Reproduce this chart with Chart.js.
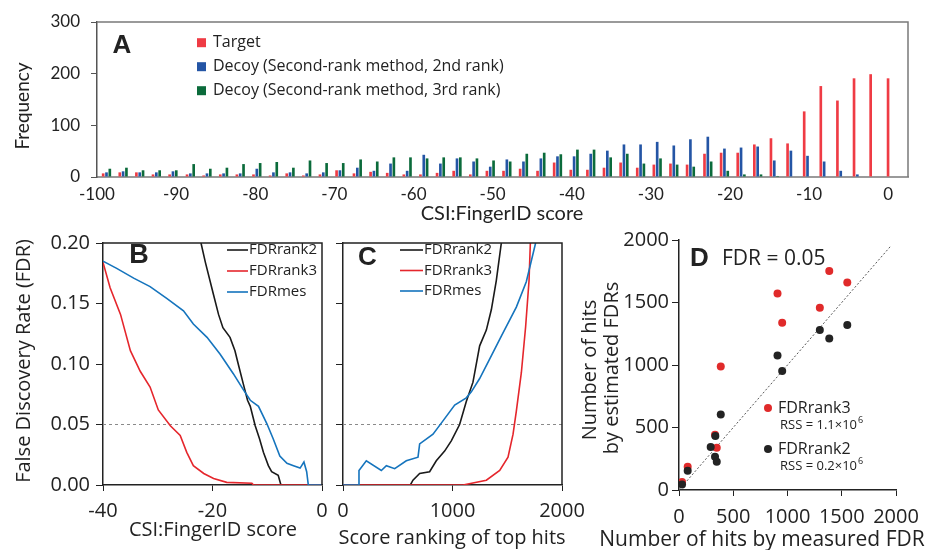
<!DOCTYPE html>
<html><head><meta charset="utf-8">
<script src="https://cdn.jsdelivr.net/npm/chart.js@4.4.0/dist/chart.umd.min.js"></script>
<style>
html,body{margin:0;padding:0;background:#fff;width:925px;height:550px;overflow:hidden;position:relative}
canvas{position:absolute;}
</style></head><body>
<canvas id="cA" width="925" height="225" style="left:0;top:0"></canvas>
<canvas id="cB" width="345" height="325" style="left:0;top:225px"></canvas>
<canvas id="cC" width="270" height="325" style="left:330px;top:225px"></canvas>
<canvas id="cD" width="355" height="325" style="left:570px;top:225px"></canvas>
<script>
// ---------- Panel A: histogram ----------
const binScores = [-98.8, -96.7, -94.6, -92.5, -90.4, -88.2, -86.1, -84.0, -81.9, -79.8, -77.7, -75.6, -73.5, -71.4, -69.3, -67.1,
  -65.0, -62.9, -60.8, -58.7, -56.6, -54.5, -52.4, -50.3, -48.2, -46.1, -43.9, -41.8, -39.7, -37.6, -35.5, -33.4,
  -31.3, -29.2, -27.1, -25.0, -22.8, -20.7, -18.6, -16.5, -14.4, -12.3, -10.2, -8.1, -6.0, -3.9, -1.8, 0.4];
const targetFreq = [7, 9, 9, 5, 5, 5, 3, 5, 5, 5, 3, 7, 3, 5, 13, 7,
  10, 8, 5, 5, 8, 12, 5, 12, 12, 16, 12, 28, 14, 14, 18, 28,
  18, 24, 26, 24, 45, 47, 47, 63, 75, 65, 127, 176, 148, 191, 199, 191];
const decoy2Freq = [9, 11, 9, 9, 11, 7, 7, 7, 7, 16, 9, 9, 7, 9, 13, 18,
  12, 26, 12, 43, 26, 36, 30, 20, 34, 30, 36, 40, 40, 45, 51, 63,
  63, 68, 61, 73, 78, 55, 57, 59, 32, 51, 41, 30, 12, 5, 0, 0];
const decoy3Freq = [16, 18, 13, 13, 13, 25, 16, 18, 25, 27, 29, 18, 32, 27, 27, 34,
  30, 38, 38, 36, 38, 38, 36, 32, 30, 45, 47, 44, 53, 53, 38, 45,
  26, 36, 24, 20, 30, 12, 5, 5, 2, 0, 1, 0, 0, 0, 0, 0];
const freqTicks = [0, 100, 200, 300];
const scoreTicksA = [-100, -90, -80, -70, -60, -50, -40, -30, -20, -10, 0];

// ---------- Panel B: FDR vs score ----------
const bScoreRank2 = [-22.1, -21.3, -19.8, -18.9, -18.1, -16.8, -15.9, -15.3, -14.4, -13.6, -13.1, -12.2, -11.4, -10.7, -9.8, -9.2, -8.0, -7.5, 0];
const bFdrRank2   = [0.200, 0.184, 0.157, 0.141, 0.130, 0.122, 0.111, 0.100, 0.084, 0.070, 0.065, 0.049, 0.038, 0.027, 0.016, 0.011, 0.008, 0, 0];
const bScoreRank3 = [-40, -38.7, -36.8, -35.0, -33.2, -31.4, -29.9, -27.7, -25.9, -24.7, -23.5, -21.6, -19.8, -17.4, -12.8, -12.5, 0];
const bFdrRank3   = [0.184, 0.163, 0.141, 0.111, 0.094, 0.081, 0.062, 0.049, 0.041, 0.027, 0.016, 0.0095, 0.0054, 0.0022, 0.0014, 0, 0];
const bScoreMes   = [-40, -37.5, -34.4, -31.4, -28.3, -25.3, -23.5, -21.0, -18.6, -16.2, -14.4, -13.1, -11.6, -10.1, -8.9, -7.7, -6.4, -5.2, -4.0, -3.3, -2.8, -2.5, 0];
const bFdrMes     = [0.185, 0.179, 0.171, 0.164, 0.154, 0.144, 0.133, 0.122, 0.108, 0.092, 0.079, 0.070, 0.065, 0.051, 0.038, 0.024, 0.018, 0.016, 0.014, 0.019, 0.011, 0, 0];
const fdrTicks = [0, 0.05, 0.10, 0.15, 0.20];
const scoreTicksB = [-40, -20, 0];
const fdrThreshold = 0.05;

// ---------- Panel C: FDR vs ranking ----------
const cRankMes   = [0, 146, 146, 213, 350, 396, 472, 578, 685, 700, 822, 913, 1020, 1126, 1172, 1248, 1339, 1446, 1583, 1674, 1759];
const cFdrMes    = [0, 0, 0.012, 0.020, 0.012, 0.016, 0.0135, 0.020, 0.023, 0.034, 0.042, 0.053, 0.066, 0.072, 0.077, 0.088, 0.104, 0.123, 0.147, 0.168, 0.200];
const cRankRank2 = [0, 615, 639, 700, 791, 852, 928, 989, 1065, 1126, 1187, 1248, 1309, 1355, 1400, 1446];
const cFdrRank2  = [0, 0, 0.004, 0.0095, 0.011, 0.020, 0.028, 0.0365, 0.050, 0.069, 0.085, 0.115, 0.128, 0.145, 0.169, 0.200];
const cRankRank3 = [0, 1096, 1309, 1431, 1507, 1553, 1583, 1629, 1668, 1699, 1711];
const cFdrRank3  = [0, 0, 0.004, 0.012, 0.023, 0.042, 0.061, 0.093, 0.131, 0.169, 0.200];
const rankTicks = [0, 1000, 2000];

// ---------- Panel D: hits estimated vs measured ----------
const dMeasuredRank3  = [1385, 1551, 908, 1298, 951, 385, 332, 348, 80, 28];
const dEstimatedRank3 = [1752, 1661, 1573, 1459, 1339, 989, 443, 339, 187, 64];
const dMeasuredRank2  = [1551, 1298, 1385, 908, 951, 385, 335, 292, 332, 348, 80, 28];
const dEstimatedRank2 = [1320, 1280, 1213, 1077, 952, 605, 432, 344, 267, 227, 155, 45];
const diagonalExtent = [0, 1950];
const hitTicks = [0, 500, 1000, 1500, 2000];

// ---------- helpers ----------
const zip = (xs, ys) => xs.map((x, i) => ({x: x, y: ys[i]}));
const setTicks = list => s => { s.ticks = list.map(v => ({value: v})); };
const plain = v => String(v);
const noPad = h => s => { s.height = h; s.paddingLeft = 0; s.paddingRight = 0; };

function textsPlugin(items) {
  return { id: 'texts', afterDraw(chart) {
    const ctx = chart.ctx;
    items.forEach(it => {
      ctx.save();
      ctx.font = it.font; ctx.fillStyle = it.color || '#222';
      ctx.textAlign = it.align || 'center'; ctx.textBaseline = 'middle';
      ctx.translate(it.x, it.y);
      if (it.rot) ctx.rotate(it.rot);
      ctx.fillText(it.text, 0, 0);
      if (it.sup) {
        const w = ctx.measureText(it.text).width;
        ctx.font = it.supFont; ctx.textAlign = 'left';
        ctx.fillText(it.sup, w + 1, -5);
      }
      ctx.restore();
    });
  }};
}
function framePlugin(sides, color, width) {
  return { id: 'frame', afterDraw(chart) {
    const ctx = chart.ctx, c = chart.chartArea;
    ctx.save(); ctx.strokeStyle = color; ctx.lineWidth = width; ctx.beginPath();
    if (sides.includes('top')) { ctx.moveTo(c.left, c.top); ctx.lineTo(c.right + width / 2, c.top); }
    if (sides.includes('right')) { ctx.moveTo(c.right, c.top); ctx.lineTo(c.right, c.bottom); }
    ctx.stroke(); ctx.restore();
  }};
}
function legendPlugin(cfg) {
  return { id: 'customLegend', afterDraw(chart) {
    const ctx = chart.ctx;
    ctx.save();
    ctx.font = cfg.font; ctx.textBaseline = 'middle'; ctx.textAlign = 'left';
    cfg.items.forEach((idx, i) => {
      const ds = chart.data.datasets[idx];
      const y = cfg.y + i * cfg.dy;
      if (cfg.kind === 'box') {
        ctx.fillStyle = ds.backgroundColor;
        ctx.fillRect(cfg.x, y - cfg.size / 2, cfg.size, cfg.size);
      } else if (cfg.kind === 'line') {
        ctx.strokeStyle = ds.borderColor; ctx.lineWidth = 1.6;
        ctx.beginPath(); ctx.moveTo(cfg.x, y); ctx.lineTo(cfg.x + cfg.len, y); ctx.stroke();
      } else if (cfg.kind === 'dot') {
        ctx.fillStyle = ds.backgroundColor;
        ctx.beginPath(); ctx.arc(cfg.x, y, cfg.size, 0, Math.PI * 2); ctx.fill();
      }
      ctx.fillStyle = '#222';
      ctx.fillText(ds.label, cfg.x + cfg.textOffset, y);
    });
    ctx.restore();
  }};
}
const base = { responsive: false, animation: false, devicePixelRatio: 1, events: [],
  plugins: { legend: { display: false }, tooltip: { enabled: false } } };
const AX = '#222';
const OS = '"Open Sans", sans-serif';

// ---------- Chart A ----------
new Chart(document.getElementById('cA'), {
  type: 'bar',
  data: { datasets: [
    { label: 'Target', data: zip(binScores, targetFreq), backgroundColor: '#ef3b44' },
    { label: 'Decoy (Second-rank method, 2nd rank)', data: zip(binScores, decoy2Freq), backgroundColor: '#2455a5' },
    { label: 'Decoy (Second-rank method, 3rd rank)', data: zip(binScores, decoy3Freq), backgroundColor: '#0b6b3b' }
  ]},
  options: Object.assign({}, base, {
    layout: { padding: { left: 0, right: 17, top: 22, bottom: 0 } },
    datasets: { bar: { categoryPercentage: 0.6, barPercentage: 0.8, borderWidth: 0 } },
    scales: {
      x: { type: 'linear', min: -100, max: 2.5, offset: false,
        afterBuildTicks: setTicks(scoreTicksA), afterFit: noPad(48),
        ticks: { padding: 7, font: { family: 'Lato', size: 17 }, color: '#222', maxRotation: 0, autoSkip: false, callback: plain },
        grid: { display: false, drawTicks: false, offset: false },
        border: { display: true, color: '#9a9a9a', width: 2 } },
      y: { min: 0, max: 300, afterBuildTicks: setTicks(freqTicks), afterFit: s => { s.width = 97; },
        ticks: { padding: 11, font: { family: 'Lato', size: 17 }, color: '#222', callback: plain },
        grid: { display: true, drawOnChartArea: false, drawTicks: true, tickLength: 6, color: '#555' },
        border: { display: true, color: '#555', width: 1.5 } }
    }
  }),
  plugins: [
    framePlugin(['top', 'right'], '#7a7a7a', 1.5),
    legendPlugin({ kind: 'box', x: 197, y: 42.7, dy: 24, size: 9, textOffset: 16, font: '16px ' + OS, items: [0, 1, 2] }),
    textsPlugin([
      { text: 'A', x: 122, y: 46, font: 'bold 26px "Liberation Sans", Arial, sans-serif' },
      { text: 'Frequency', x: 23, y: 106, rot: -Math.PI / 2, font: '19px Lato, sans-serif' },
      { text: 'CSI:FingerID score', x: 502, y: 214, font: '20px Lato, sans-serif' }
    ])
  ]
});

// ---------- shared line-panel options ----------
function lineScales(xMin, xMax, xTicks, yLabels, yWidth, xHeight, xPad) {
  return {
    x: { type: 'linear', min: xMin, max: xMax, afterBuildTicks: setTicks(xTicks), afterFit: noPad(xHeight),
      ticks: { padding: xPad, font: { family: 'Open Sans', size: 20 }, color: '#222', maxRotation: 0, autoSkip: false, callback: plain },
      grid: { display: true, drawOnChartArea: false, drawTicks: true, tickLength: 6, color: AX },
      border: { display: true, color: AX, width: 1.5 } },
    y: { min: 0, max: 0.2, afterBuildTicks: setTicks(fdrTicks), afterFit: s => { s.width = yWidth; },
      ticks: { padding: 6, font: { family: 'Open Sans', size: 20 }, color: '#222',
        callback: v => yLabels ? Number(v).toFixed(2) : '' },
      grid: { display: true, drawOnChartArea: false, drawTicks: true, tickLength: 7, color: AX },
      border: { display: true, color: AX, width: 1.5 } }
  };
}
const lineEl = { point: { radius: 0 }, line: { borderWidth: 1.6, tension: 0 } };
const RED = '#e5262c', BLUE = '#1574bd', BLACK = '#1a1a1a';

// ---------- Chart B ----------
new Chart(document.getElementById('cB'), {
  type: 'line',
  data: { datasets: [
    { label: 'FDRrank2', data: zip(bScoreRank2, bFdrRank2), borderColor: BLACK, order: 2 },
    { label: 'FDRrank3', data: zip(bScoreRank3, bFdrRank3), borderColor: RED, order: 1 },
    { label: 'FDRmes', data: zip(bScoreMes, bFdrMes), borderColor: BLUE, order: 0 },
    { label: 'FDR = 0.05', data: zip([-40, 0], [fdrThreshold, fdrThreshold]), borderColor: '#8a8a8a', borderWidth: 1, borderDash: [3, 3], order: 3 }
  ]},
  options: Object.assign({}, base, {
    layout: { padding: { left: 0, right: 23, top: 14, bottom: 0 } },
    elements: lineEl,
    scales: lineScales(-40, 0, scoreTicksB, true, 103, 65, 8)
  }),
  plugins: [
    framePlugin(['top', 'right'], AX, 1.5),
    legendPlugin({ kind: 'line', x: 227, y: 25, dy: 21, len: 21, textOffset: 22, font: '15px ' + OS, items: [0, 1, 2] }),
    textsPlugin([
      { text: 'B', x: 139, y: 31, font: 'bold 27px "Liberation Sans", Arial, sans-serif' },
      { text: 'False Discovery Rate (FDR)', x: 24, y: 136, rot: -Math.PI / 2, font: '20px ' + OS },
      { text: 'CSI:FingerID score', x: 213, y: 305, font: '20px ' + OS }
    ])
  ]
});

// ---------- Chart C ----------
new Chart(document.getElementById('cC'), {
  type: 'line',
  data: { datasets: [
    { label: 'FDRrank2', data: zip(cRankRank2, cFdrRank2), borderColor: BLACK, order: 2 },
    { label: 'FDRrank3', data: zip(cRankRank3, cFdrRank3), borderColor: RED, order: 1 },
    { label: 'FDRmes', data: zip(cRankMes, cFdrMes), borderColor: BLUE, order: 0 },
    { label: 'FDR = 0.05', data: zip([0, 2000], [fdrThreshold, fdrThreshold]), borderColor: '#8a8a8a', borderWidth: 1, borderDash: [3, 3], order: 3 }
  ]},
  options: Object.assign({}, base, {
    layout: { padding: { left: 0, right: 38, top: 15, bottom: 0 } },
    elements: lineEl,
    scales: lineScales(0, 2000, rankTicks, false, 13, 65, 8)
  }),
  plugins: [
    framePlugin(['top', 'right'], AX, 1.5),
    legendPlugin({ kind: 'line', x: 70, y: 25, dy: 20.5, len: 23, textOffset: 24, font: '15px ' + OS, items: [0, 1, 2] }),
    textsPlugin([
      { text: 'C', x: 37.5, y: 33, font: 'bold 26px "Liberation Sans", Arial, sans-serif' },
      { text: 'Score ranking of top hits', x: 122, y: 313, font: '20px ' + OS }
    ])
  ]
});

// ---------- Chart D ----------
new Chart(document.getElementById('cD'), {
  type: 'scatter',
  data: { datasets: [
    { label: 'FDRrank2', data: zip(dMeasuredRank2, dEstimatedRank2), backgroundColor: '#232323', pointRadius: 4, borderWidth: 0, order: 0 },
    { label: 'FDRrank3', data: zip(dMeasuredRank3, dEstimatedRank3), backgroundColor: '#e02a2a', pointRadius: 4, borderWidth: 0, order: 1 },
    { label: 'y = x', type: 'line', data: zip(diagonalExtent, diagonalExtent), borderColor: '#555', borderWidth: 1, borderDash: [2, 2], pointRadius: 0, order: 2 }
  ]},
  options: Object.assign({}, base, {
    layout: { padding: { left: 0, right: 29, top: 15, bottom: 0 } },
    scales: {
      x: { type: 'linear', min: 0, max: 2000, afterBuildTicks: setTicks(hitTicks), afterFit: noPad(60),
        ticks: { padding: 9, font: { family: 'Open Sans', size: 20 }, color: '#222', maxRotation: 0, autoSkip: false, callback: plain },
        grid: { display: true, drawOnChartArea: false, drawTicks: true, tickLength: 6, color: AX },
        border: { display: true, color: AX, width: 1.5 } },
      y: { min: 0, max: 2000, afterBuildTicks: setTicks(hitTicks), afterFit: s => { s.width = 109; },
        ticks: { padding: 3, font: { family: 'Open Sans', size: 20 }, color: '#222', callback: plain },
        grid: { display: true, drawOnChartArea: false, drawTicks: true, tickLength: 7, color: AX },
        border: { display: true, color: AX, width: 1.5 } }
    }
  }),
  plugins: [
    legendPlugin({ kind: 'dot', x: 198, y: 183, dy: 41, size: 4, textOffset: 10, font: '16px ' + OS, items: [1, 0] }),
    textsPlugin([
      { text: 'D', x: 129.5, y: 34, font: 'bold 26px "Liberation Sans", Arial, sans-serif' },
      { text: 'FDR = 0.05', x: 152, y: 34, align: 'left', font: '21px ' + OS },
      { text: 'Number of hits', x: 20, y: 145, rot: -Math.PI / 2, font: '20px ' + OS },
      { text: 'by estimated FDRs', x: 42, y: 143, rot: -Math.PI / 2, font: '20px ' + OS },
      { text: 'Number of hits by measured FDR', x: 192, y: 315, font: '21px ' + OS },
      { text: 'RSS = 1.1\u00d710', sup: '6', x: 210, y: 200, align: 'left', font: '13px ' + OS, supFont: '9px ' + OS },
      { text: 'RSS = 0.2\u00d710', sup: '6', x: 210, y: 241, align: 'left', font: '13px ' + OS, supFont: '9px ' + OS }
    ])
  ]
});
</script>
</body></html>
